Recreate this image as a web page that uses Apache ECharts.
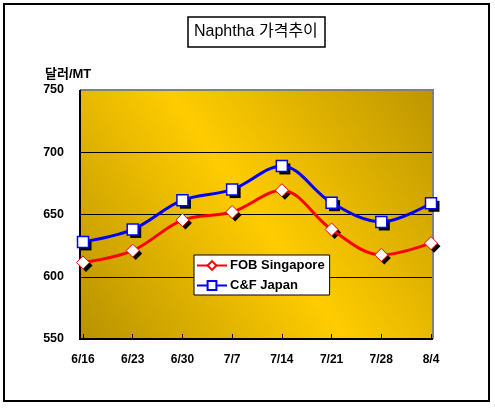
<!DOCTYPE html>
<html><head><meta charset="utf-8">
<script src="https://cdn.jsdelivr.net/npm/echarts@6/dist/echarts.min.js"></script>
<style>html,body{margin:0;padding:0;background:#fff}#c{width:495px;height:410px}</style>
</head><body><div id="c"></div>
<script>
const categories = ['6/16','6/23','6/30','7/7','7/14','7/21','7/28','8/4'];
const fobSingapore = [611.5, 621, 645.5, 652, 669.5, 638, 617.5, 627];
const cfJapan = [628, 638, 661.5, 670, 689, 659.5, 644, 659];
const yTicks = {min: 550, max: 750, step: 50};
const seriesNames = ['FOB Singapore', 'C&F Japan'];

const FONT = '"Liberation Sans", Arial, "Noto Sans CJK KR", sans-serif';
const chart = echarts.init(document.getElementById('c'), null, {renderer: 'canvas'});

function shadowSeries(data, symbol, size) {
  return {
    type: 'line', z: 15, xAxisIndex: 0, yAxisIndex: 0,
    data: data, symbol: symbol, symbolSize: size, symbolOffset: [3, 3],
    showAllSymbol: true, silent: true,
    lineStyle: {width: 0, opacity: 0},
    itemStyle: {color: '#000', borderWidth: 0}
  };
}

chart.setOption({
  animation: false,
  backgroundColor: '#fff',
  title: {
    text: 'Naphtha 가격추이',
    left: 188, top: 17,
    padding: [6, 7, 6, 6],
    borderColor: '#000', borderWidth: 1.5,
    backgroundColor: '#fff',
    textStyle: {fontFamily: FONT, fontSize: 16, fontWeight: 'normal', color: '#000', lineHeight: 18}
  },
  legend: {
    orient: 'vertical',
    left: 194, top: 255,
    backgroundColor: '#fff',
    borderColor: '#000', borderWidth: 1,
    borderRadius: 0,
    padding: [4, 5, 3, 2],
    itemGap: 7,
    itemWidth: 30, itemHeight: 11,
    textStyle: {fontFamily: FONT, fontSize: 13, fontWeight: 'bold', color: '#000', padding: [0, 0, 0, -2]},
    data: seriesNames
  },
  grid: [
    {left: 83, right: 64, top: 90, height: 249, containLabel: false},
    {left: 80, right: 62, top: 90, height: 249, containLabel: false}
  ],
  xAxis: [{
    type: 'category',
    gridIndex: 0,
    boundaryGap: false,
    data: categories,
    axisLine: {show: false},
    axisTick: {show: true, inside: true, length: 5, lineStyle: {color: '#000', width: 1}},
    axisLabel: {fontFamily: FONT, fontSize: 12, fontWeight: 'bold', color: '#000', margin: 15},
    splitLine: {show: false}
  }, {
    type: 'value', gridIndex: 1, show: false
  }],
  yAxis: [{
    type: 'value', gridIndex: 0,
    min: yTicks.min, max: yTicks.max, interval: yTicks.step,
    show: false
  }, {
    type: 'value', gridIndex: 1,
    min: yTicks.min, max: yTicks.max, interval: yTicks.step,
    axisLine: {show: false},
    axisTick: {show: false},
    axisLabel: {fontFamily: FONT, fontSize: 12.5, fontWeight: 'bold', color: '#000', margin: 16},
    splitLine: {show: true, lineStyle: {color: '#000', width: 1}}
  }],
  graphic: [
    {type: 'rect', z: -10, shape: {x: 4, y: 4, width: 485, height: 397}, style: {fill: '#fff', stroke: '#000', lineWidth: 2}},
    {type: 'rect', z: -5, shape: {x: 80, y: 90, width: 353, height: 249},
      style: {fill: new echarts.graphic.LinearGradient(1, 0, 0, 1, [
        {offset: 0, color: '#BD9600'},
        {offset: 0.5, color: '#FFCC00'},
        {offset: 1, color: '#B89200'}
      ])}},
    {type: 'polyline', z: 10, shape: {points: [[80, 90], [433, 90], [433, 339]]}, style: {fill: null, stroke: '#808080', lineWidth: 2}},
    {type: 'polyline', z: 10, shape: {points: [[80, 90], [80, 339], [433, 339]]}, style: {fill: null, stroke: '#000', lineWidth: 2}},
    {type: 'text', z: 10, left: 45, top: 68, style: {text: '달러/MT', fill: '#000', font: 'bold 13px ' + FONT}}
  ],
  series: [
    shadowSeries(fobSingapore, 'diamond', [13, 13]),
    shadowSeries(cfJapan, 'rect', [11, 11]),
    {
      name: seriesNames[0], type: 'line', smooth: 0.35, z: 20,
      xAxisIndex: 0, yAxisIndex: 0,
      data: fobSingapore,
      symbol: 'diamond', symbolSize: [13, 13], showAllSymbol: true,
      lineStyle: {color: '#FF0000', width: 3},
      itemStyle: {color: '#fff', borderColor: '#FF0000', borderWidth: 1}
    },
    {
      name: seriesNames[1], type: 'line', smooth: 0.35, z: 20,
      xAxisIndex: 0, yAxisIndex: 0,
      data: cfJapan,
      symbol: 'rect', symbolSize: [11, 11], showAllSymbol: true,
      lineStyle: {color: '#0000FF', width: 3},
      itemStyle: {color: '#fff', borderColor: '#0000FF', borderWidth: 1.5}
    }
  ]
});
</script></body></html>
